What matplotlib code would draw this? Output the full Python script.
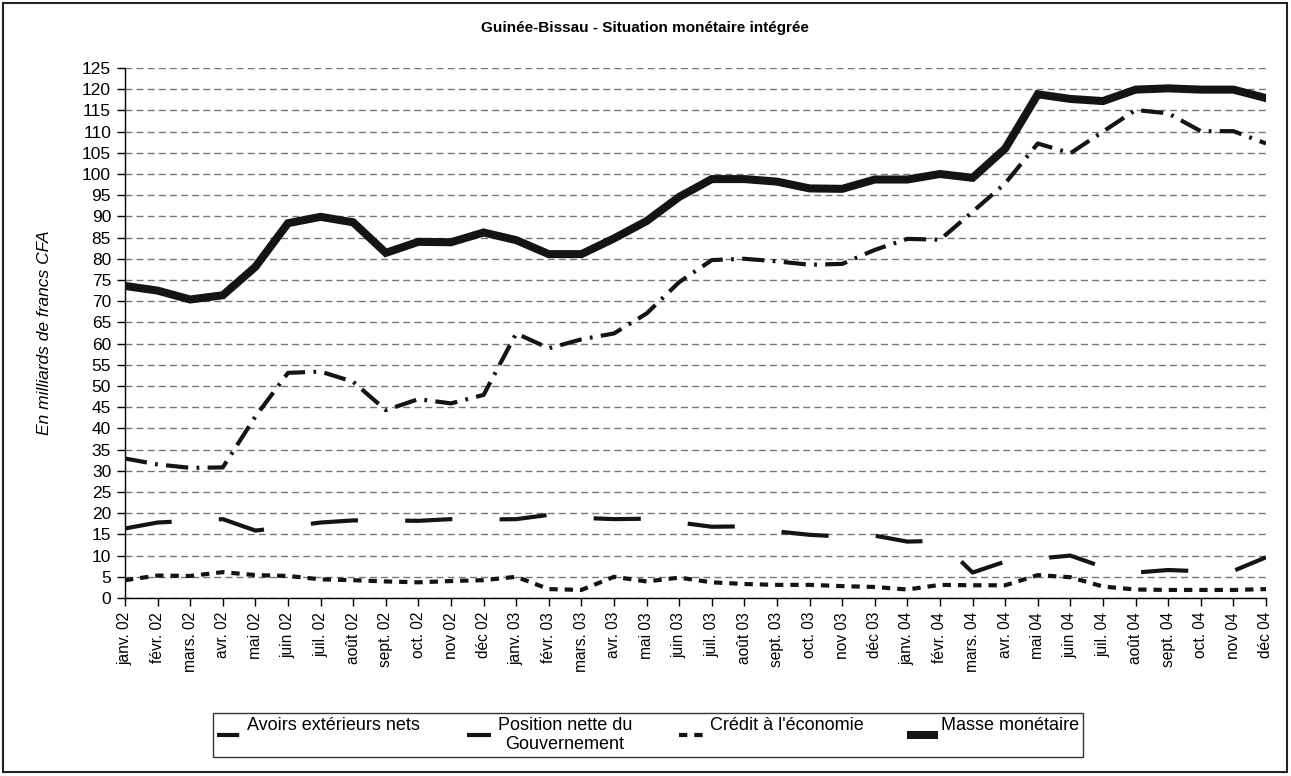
import matplotlib
matplotlib.use("Agg")
import matplotlib.pyplot as plt
from matplotlib.lines import Line2D
from matplotlib.patches import Rectangle
import numpy as np

plt.rcParams['font.family'] = ['Liberation Sans', 'DejaVu Sans']
plt.rcParams['lines.scale_dashes'] = False

months = ["janv. 02", "févr. 02", "mars. 02", "avr. 02", "mai 02", "juin 02", "juil. 02", "août 02",
          "sept. 02", "oct. 02", "nov 02", "déc 02",
          "janv. 03", "févr. 03", "mars. 03", "avr. 03", "mai 03", "juin 03", "juil. 03", "août 03",
          "sept. 03", "oct. 03", "nov 03", "déc 03",
          "janv. 04", "févr. 04", "mars. 04", "avr. 04", "mai 04", "juin 04", "juil. 04", "août 04",
          "sept. 04", "oct. 04", "nov 04", "déc 04"]

avoirs = [32.9, 31.5, 30.7, 30.8, 42.8, 53.1, 53.4, 51.0, 44.3, 46.9, 45.9, 47.9,
          62.4, 58.9, 61.0, 62.4, 67.1, 74.5, 79.7, 80.0, 79.4, 78.6, 78.8, 82.1,
          84.7, 84.5, 91.1, 97.8, 107.2, 104.9, 110.0, 115.1, 114.3, 110.1, 110.1, 107.2]

position = [16.4, 17.8, 18.2, 18.6, 15.9, 16.8, 17.8, 18.3, 18.3, 18.2, 18.6, 18.5,
            18.6, 19.6, 18.9, 18.6, 18.7, 17.8, 16.8, 16.9, 15.7, 14.9, 14.5, 14.7,
            13.3, 13.5, 6.0, 8.6, 9.3, 10.0, 7.3, 6.0, 6.6, 6.3, 6.4, 9.6]

credit = [4.2, 5.3, 5.2, 6.1, 5.4, 5.2, 4.4, 4.2, 3.9, 3.7, 4.0, 4.2,
          5.0, 2.1, 1.9, 5.0, 3.9, 4.8, 3.7, 3.3, 3.1, 3.1, 2.8, 2.6,
          2.0, 3.1, 3.0, 3.0, 5.4, 4.9, 2.7, 2.0, 1.9, 1.9, 1.9, 2.1]

masse = [73.6, 72.5, 70.4, 71.4, 78.1, 88.4, 89.9, 88.6, 81.4, 84.0, 83.9, 86.2,
         84.4, 81.1, 81.1, 84.8, 88.9, 94.6, 98.8, 98.8, 98.2, 96.6, 96.5, 98.7,
         98.7, 100.0, 99.1, 106.0, 118.8, 117.7, 117.2, 119.9, 120.2, 119.9, 119.9, 117.9]

labels = ["Avoirs extérieurs nets\n ", "Position nette du\nGouvernement",
          "Crédit à l'économie\n ", "Masse monétaire\n "]
yticks = list(range(0, 130, 5))

W, H = 1291, 776
fig = plt.figure(figsize=(W / 100, H / 100), dpi=100)
ax = fig.add_axes([125 / W, 1 - 598 / H, (1266 - 125) / W, (598 - 68) / H])

x = np.arange(len(months))

styles = {
    'avoirs': dict(color='#141414', lw=3.0, ls=(0, (16, 6, 2, 6)), dash_capstyle='butt'),
    'position': dict(color='#141414', lw=3.0, ls=(0, (34, 34)), dash_capstyle='butt'),
    'credit': dict(color='#141414', lw=3.0, ls=(0, (6, 5)), dash_capstyle='butt'),
    'masse': dict(color='#141414', lw=5.8, ls='-', solid_joinstyle='miter'),
}

ax.plot(x, avoirs, **styles['avoirs'], zorder=3)
ax.plot(x, position, **styles['position'], zorder=3)
ax.plot(x, credit, **styles['credit'], zorder=3)
ax.plot(x, masse, **styles['masse'], zorder=4)

ax.set_xlim(0, len(months) - 1)
ax.set_ylim(0, 125)
ax.set_yticks(yticks)
ax.set_yticklabels([str(v) for v in yticks], fontsize=12.5)
ax.set_xticks(x)
ax.set_xticklabels(months, rotation=90, fontsize=11.2)
ax.tick_params(axis='both', direction='out', length=6, width=1, color='black', pad=4)
ax.grid(axis='y', color='#777777', lw=1.0, ls=(0, (5, 3)))
ax.set_axisbelow(True)
for s in ['top', 'right']:
    ax.spines[s].set_visible(False)
for s in ['left', 'bottom']:
    ax.spines[s].set_linewidth(1.0)
    ax.spines[s].set_color('black')

ax.set_ylabel("En milliards de francs CFA", fontsize=12.5, style='italic')
ax.yaxis.set_label_coords(-73 / (1266 - 125), 0.5)

fig.text(645 / W, 1 - 28 / H, "Guinée-Bissau - Situation monétaire intégrée",
         ha='center', va='center', fontsize=11, fontweight='bold')

handles = [Line2D([], [], **styles['avoirs']),
           Line2D([], [], **styles['position']),
           Line2D([], [], **styles['credit']),
           Line2D([], [], **styles['masse'])]
leg = fig.legend(handles, labels, loc='center', bbox_to_anchor=(648 / W, 1 - 735 / H),
                 ncol=4, fontsize=13, frameon=True, fancybox=False, edgecolor='black',
                 handlelength=1.3, columnspacing=2.6, handletextpad=0.4, borderpad=0.2,
                 borderaxespad=0)
leg.get_frame().set_linewidth(1.0)
for t in leg.get_texts():
    t.set_multialignment('center')

fig.patches.append(Rectangle((3 / W, 4 / H), 1284 / W, 769 / H, transform=fig.transFigure,
                             fill=False, edgecolor='#222222', lw=1.5))

fig.savefig("out.png", dpi=100, facecolor='white')
